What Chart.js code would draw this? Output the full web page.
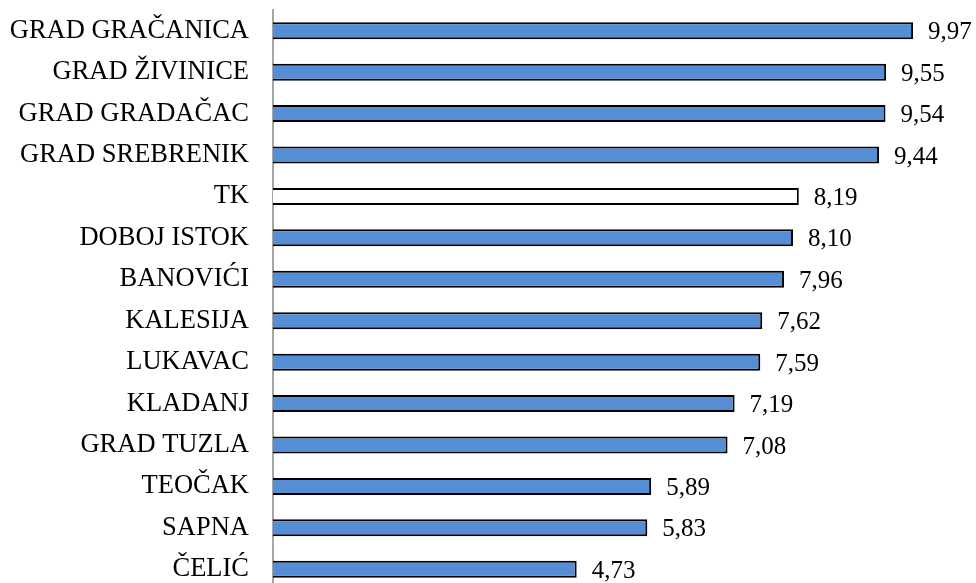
<!DOCTYPE html>
<html lang="bs">
<head>
<meta charset="UTF-8">
<title>Opštine TK</title>
<script src="https://cdn.jsdelivr.net/npm/chart.js"></script>
<style>
  html, body { margin: 0; padding: 0; overflow: hidden; background: #fff; }
  #wrap { width: 976px; height: 590px; position: relative; }
</style>
</head>
<body>
<div id="wrap"><canvas id="chart"></canvas></div>
<script>
    const labels = ['GRAD GRAČANICA', 'GRAD ŽIVINICE', 'GRAD GRADAČAC', 'GRAD SREBRENIK', 'TK',
        'DOBOJ ISTOK', 'BANOVIĆI', 'KALESIJA', 'LUKAVAC', 'KLADANJ', 'GRAD TUZLA', 'TEOČAK', 'SAPNA', 'ČELIĆ'];
    const values = [9.97, 9.55, 9.54, 9.44, 8.19, 8.10, 7.96, 7.62, 7.59, 7.19, 7.08, 5.89, 5.83, 4.73];

    const blue = 'rgb(85, 142, 213)';
    const fills = labels.map(l => l === 'TK' ? '#ffffff' : blue);
    const font = 'Liberation Serif';

    // brojevi desno od stubića
    const valueLabels = {
        id: 'valueLabels',
        afterDatasetsDraw(chart) {
            const ctx = chart.ctx;
            const meta = chart.getDatasetMeta(0);
            ctx.save();
            ctx.font = '25px "' + font + '"';
            ctx.fillStyle = '#000';
            ctx.textAlign = 'left';
            ctx.textBaseline = 'middle';
            meta.data.forEach((bar, i) => {
                ctx.fillText(values[i].toFixed(2).replace('.', ','), bar.x + 15, bar.y + 2);
            });
            ctx.restore();
        }
    };

    new Chart(document.getElementById('chart'), {
        type: 'bar',
        data: {
            labels: labels,
            datasets: [{
                data: values,
                backgroundColor: fills,
                borderColor: '#000',
                borderWidth: 2,
                borderSkipped: 'left',
                categoryPercentage: 1,
                barPercentage: 0.41
            }]
        },
        options: {
            indexAxis: 'y',
            responsive: true,
            maintainAspectRatio: false,
            animation: false,
            layout: { padding: { top: 10, right: 0, bottom: 0, left: 0 } },
            plugins: { legend: { display: false }, tooltip: { enabled: false } },
            scales: {
                x: { display: false, min: 0, max: 10.95 },
                y: {
                    grid: { display: false, drawTicks: false },
                    border: { display: true, color: '#a6a6a6', width: 2 },
                    ticks: { color: '#000', padding: 24, autoSkip: false, font: { family: font, size: 26.5 } },
                    afterFit(scale) {
                        scale.width = 273;
                        scale.paddingTop = 0;
                        scale.paddingBottom = 0;
                    }
                }
            }
        },
        plugins: [valueLabels]
    });
</script>
</body>
</html>
